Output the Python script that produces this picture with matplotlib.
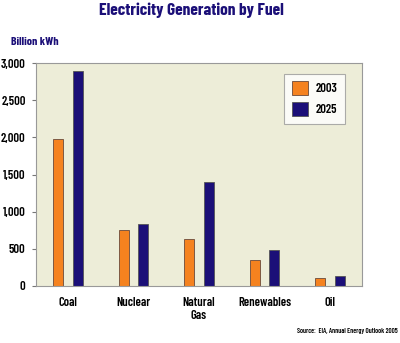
import numpy as np
import matplotlib.pyplot as plt

fuels = ['Coal', 'Nuclear', 'Natural\nGas', 'Renewables', 'Oil']
gen_2003 = [1980, 760, 630, 350, 110]
gen_2025 = [2890, 840, 1400, 480, 130]
yticks = [0, 500, 1000, 1500, 2000, 2500, 3000]

navy = '#1b0f78'
orange = '#f5821f'
plt.rcParams['font.family'] = ['Barlow Condensed', 'DejaVu Sans']

fig = plt.figure(figsize=(4.0, 3.43), dpi=100)
ax = fig.add_axes([36 / 400, 1 - 286 / 343, 326 / 400, 223 / 343])
ax.set_facecolor('#ededd8')

x = np.arange(len(fuels))
w = 0.155
off = 0.148
ax.bar(x - off, gen_2003, w, color=orange, edgecolor='#6b4a3a', linewidth=0.6, label='2003')
ax.bar(x + off, gen_2025, w, color=navy, edgecolor='#555555', linewidth=0.6, label='2025')

ax.set_xlim(-0.49, 4.49)
ax.set_ylim(0, 3000)
ax.set_yticks(yticks)
ax.set_yticklabels([f'{v:,}' for v in yticks], fontsize=9, fontweight='semibold')
ax.set_xticks(x)
ax.set_xticklabels(fuels, fontsize=9, fontweight='semibold', linespacing=1.15)
ax.tick_params(axis='x', length=0, pad=8)
ax.tick_params(axis='y', length=3, width=0.8, color='#777777', pad=4.5)
for s in ax.spines.values():
    s.set_color('#999999')
    s.set_linewidth(0.8)

leg = ax.legend(loc='upper right', bbox_to_anchor=(0.948, 0.951), borderaxespad=0,
                prop={'size': 9, 'weight': 'semibold'},
                frameon=True, fancybox=False, edgecolor='#999999',
                handlelength=1.3, handleheight=1.3, labelspacing=0.55,
                borderpad=0.6, handletextpad=0.6)
leg.get_frame().set_linewidth(0.8)

fig.text(0.4775, 1 - 10 / 343, 'Electricity Generation by Fuel', ha='center', va='center',
         fontsize=12.5, fontweight='bold', color=navy)
fig.text(11 / 400, 1 - 42 / 343, 'Billion kWh', ha='left', va='center',
         fontsize=8.5, fontweight='bold', color=navy)
fig.text(398 / 400, 1 - 331 / 343, 'Source:  EIA, Annual Energy Outlook 2005', ha='right',
         va='center', fontsize=5, fontweight='semibold')

fig.savefig('out.png', dpi=100)
